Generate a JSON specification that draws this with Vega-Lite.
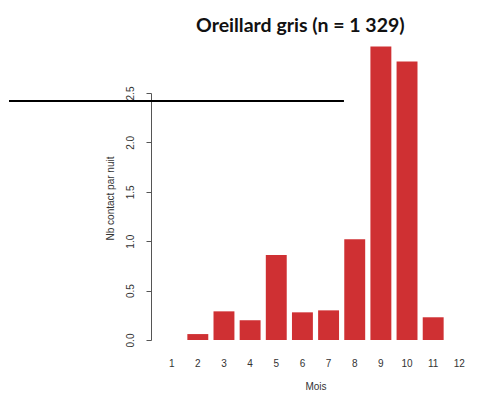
{
  "$schema": "https://vega.github.io/schema/vega-lite/v6.json",
  "autosize": "none",
  "width": 329,
  "height": 247,
  "padding": {"left": 151, "top": 93, "right": 1, "bottom": 64},
  "background": "white",
  "config": {"view": {"stroke": null}},
  "title": {
    "text": "Oreillard gris (n = 1 329)",
    "font": "Lato",
    "fontSize": 19.5,
    "fontWeight": "bold",
    "color": "#111111",
    "anchor": "middle",
    "frame": "bounds",
    "dx": 56,
    "offset": 10
  },
  "data": {
    "values": [
      {"mois": 1, "nb": 0},
      {"mois": 2, "nb": 0.06},
      {"mois": 3, "nb": 0.29},
      {"mois": 4, "nb": 0.2},
      {"mois": 5, "nb": 0.86},
      {"mois": 6, "nb": 0.28},
      {"mois": 7, "nb": 0.3},
      {"mois": 8, "nb": 1.02},
      {"mois": 9, "nb": 2.97},
      {"mois": 10, "nb": 2.82},
      {"mois": 11, "nb": 0.23},
      {"mois": 12, "nb": 0}
    ]
  },
  "layer": [
    {
      "mark": {"type": "bar", "color": "#cf3033", "clip": false},
      "encoding": {
        "x": {
          "field": "mois",
          "type": "ordinal",
          "scale": {"paddingInner": 0.2, "paddingOuter": 0.39},
          "axis": {
            "title": "Mois",
            "labelAngle": 0,
            "domain": false,
            "ticks": false,
            "labelFont": "Liberation Sans",
            "labelFontSize": 10,
            "labelColor": "#333333",
            "labelPadding": 18,
            "titleFont": "Liberation Sans",
            "titleFontSize": 10,
            "titleFontWeight": "normal",
            "titleColor": "#333333",
            "titlePadding": 13
          }
        },
        "y": {
          "field": "nb",
          "type": "quantitative",
          "scale": {"domain": [0, 2.5], "nice": false, "clamp": false},
          "axis": {
            "title": "Nb contact par nuit",
            "values": [0, 0.5, 1, 1.5, 2, 2.5],
            "format": ".1f",
            "grid": false,
            "domainColor": "#555555",
            "tickColor": "#555555",
            "tickSize": 5,
            "labelAngle": -90,
            "labelAlign": "center",
            "labelBaseline": "bottom",
            "labelPadding": 11,
            "labelFont": "Liberation Sans",
            "labelFontSize": 10,
            "labelColor": "#333333",
            "titleFont": "Liberation Sans",
            "titleFontSize": 10,
            "titleFontWeight": "normal",
            "titleColor": "#333333",
            "titleY": 105,
            "titleX": -36
          }
        }
      }
    },
    {
      "mark": {"type": "rule", "color": "#000000", "strokeWidth": 2, "clip": false},
      "encoding": {
        "x": {"datum": -5.2, "type": "quantitative", "scale": {"domain": [0.207, 12.793], "nice": false, "zero": false}, "axis": null},
        "x2": {"datum": 7.56},
        "y": {"datum": 2.42, "type": "quantitative"}
      }
    }
  ],
  "resolve": {"scale": {"x": "independent"}}
}
